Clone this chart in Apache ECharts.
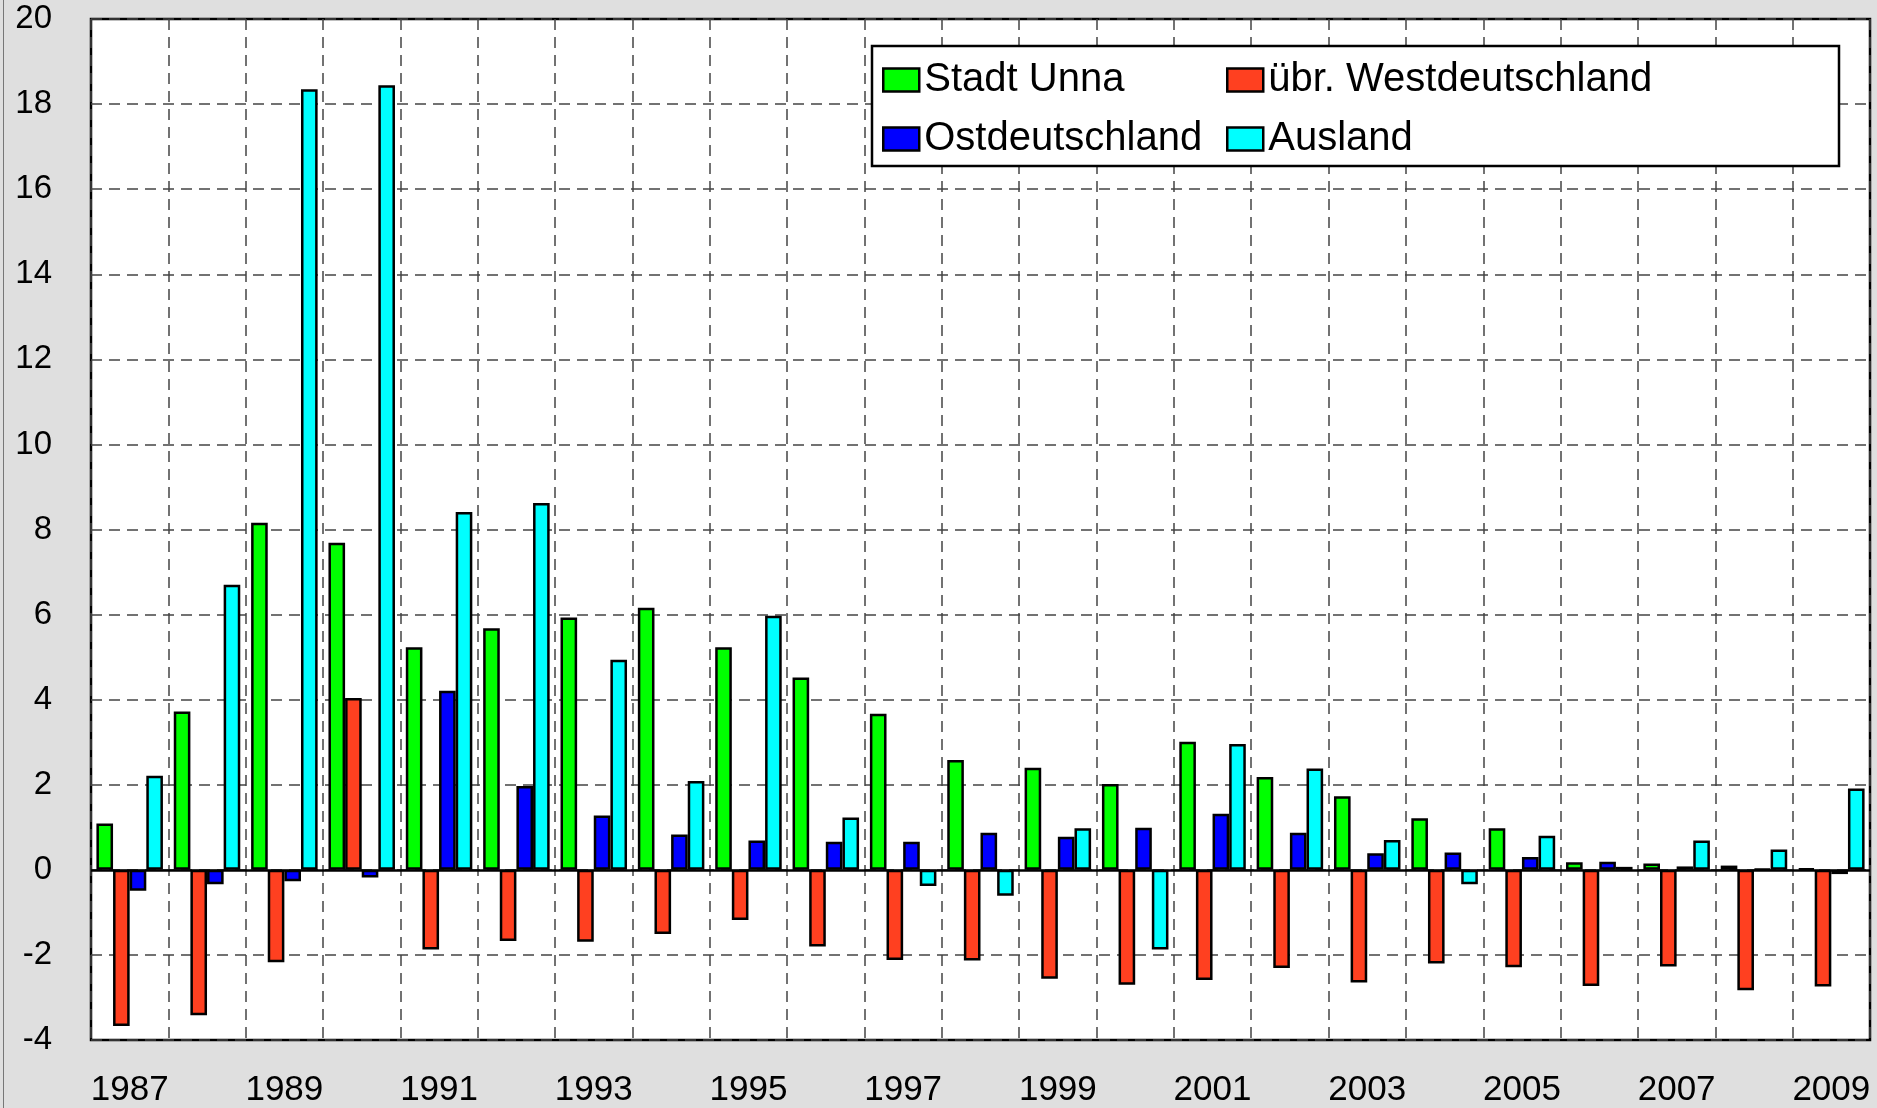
<!DOCTYPE html>
<html>
<head>
<meta charset="utf-8">
<script src="https://cdn.jsdelivr.net/npm/echarts@6/dist/echarts.min.js"></script>
<style>
html, body { margin: 0; padding: 0; background: #dfdfdf; }
#chart { width: 1877px; height: 1108px; }
</style>
</head>
<body>
<div id="chart"></div>
<script>
"use strict";

let years = ["1987", "1988", "1989", "1990", "1991", "1992", "1993", "1994", "1995", "1996", "1997", "1998",
    "1999", "2000", "2001", "2002", "2003", "2004", "2005", "2006", "2007", "2008", "2009"];

let stadtUnna = [1.09, 3.72, 8.16, 7.69, 5.23, 5.68, 5.93, 6.16, 5.23, 4.52, 3.67, 2.58,
    2.40, 2.02, 3.01, 2.18, 1.73, 1.21, 0.98, 0.18, 0.15, 0.10, 0.03];
let westDeutschland = [-3.67, -3.42, -2.17, 4.04, -1.87, -1.67, -1.69, -1.51, -1.18, -1.80, -2.12, -2.13,
    -2.56, -2.70, -2.59, -2.31, -2.65, -2.20, -2.29, -2.73, -2.27, -2.83, -2.74];
let ostDeutschland = [-0.49, -0.34, -0.27, -0.18, 4.21, 1.97, 1.28, 0.83, 0.69, 0.66, 0.66, 0.87,
    0.78, 0.99, 1.32, 0.87, 0.39, 0.41, 0.30, 0.19, 0.08, 0.02, -0.10];
let ausland = [2.21, 6.70, 18.35, 18.44, 8.41, 8.62, 4.94, 2.09, 5.97, 1.23, -0.38, -0.61,
    0.98, -1.87, 2.96, 2.38, 0.70, -0.34, 0.80, 0.07, 0.69, 0.48, 1.91];

let font = "'Liberation Sans', Arial, sans-serif";

function bar(name, data, color) {
    return {
        name: name,
        type: "bar",
        data: data,
        barGap: "0%",
        barCategoryGap: "14%",
        itemStyle: { color: color, borderColor: "#000", borderWidth: 2.5 }
    };
}

let series = [
    bar("Stadt Unna", stadtUnna, "#00ff00"),
    bar("übr. Westdeutschland", westDeutschland, "#ff4020"),
    bar("Ostdeutschland", ostDeutschland, "#0000ff"),
    bar("Ausland", ausland, "#00ffff")
];

// zero line across the plot
series[3].markLine = {
    silent: true,
    symbol: ["none", "none"],
    label: { show: false },
    lineStyle: { color: "#000", width: 2.5, type: "solid" },
    data: [{ yAxis: 0 }]
};

function legend(names, left) {
    return {
        data: names,
        orient: "vertical",
        left: left,
        top: 60,
        padding: 0,
        itemGap: 19,
        itemWidth: 36,
        itemHeight: 23,
        icon: "rect",
        z: 60,
        itemStyle: { borderColor: "#000", borderWidth: 2.5 },
        textStyle: { fontFamily: font, fontSize: 40, color: "#000" }
    };
}

let gridLine = { color: "#444", width: 1.5, type: [11, 7] };

let option = {
    animation: false,
    backgroundColor: "#dfdfdf",
    grid: {
        left: 91, top: 19, right: 7, bottom: 65,
        show: true, backgroundColor: "#fff", borderColor: "#000", borderWidth: 2.5
    },
    legend: [
        legend(["Stadt Unna", "Ostdeutschland"], 882),
        legend(["übr. Westdeutschland", "Ausland"], 1226)
    ],
    graphic: [
        {
            type: "rect", z: 50,
            shape: { x: 872, y: 46, width: 967, height: 120 },
            style: { fill: "#fff", stroke: "#000", lineWidth: 2.5 }
        },
        {
            type: "line", z: 50,
            shape: { x1: 3.5, y1: 0, x2: 3.5, y2: 1108 },
            style: { stroke: "#777", lineWidth: 1 }
        }
    ],
    xAxis: {
        type: "category",
        data: years,
        axisLine: { show: false, onZero: false },
        axisTick: { show: false },
        axisLabel: { interval: 1, margin: 33, fontFamily: font, fontSize: 35, color: "#000" },
        splitLine: { show: true, interval: 0, lineStyle: gridLine }
    },
    yAxis: {
        type: "value",
        min: -4, max: 20, interval: 2,
        axisLine: { show: false },
        axisTick: { show: false },
        axisLabel: { margin: 39, fontFamily: font, fontSize: 33, color: "#000" },
        splitLine: { show: true, lineStyle: gridLine }
    },
    series: series
};

echarts.init(document.getElementById("chart")).setOption(option);
</script>
</body>
</html>
